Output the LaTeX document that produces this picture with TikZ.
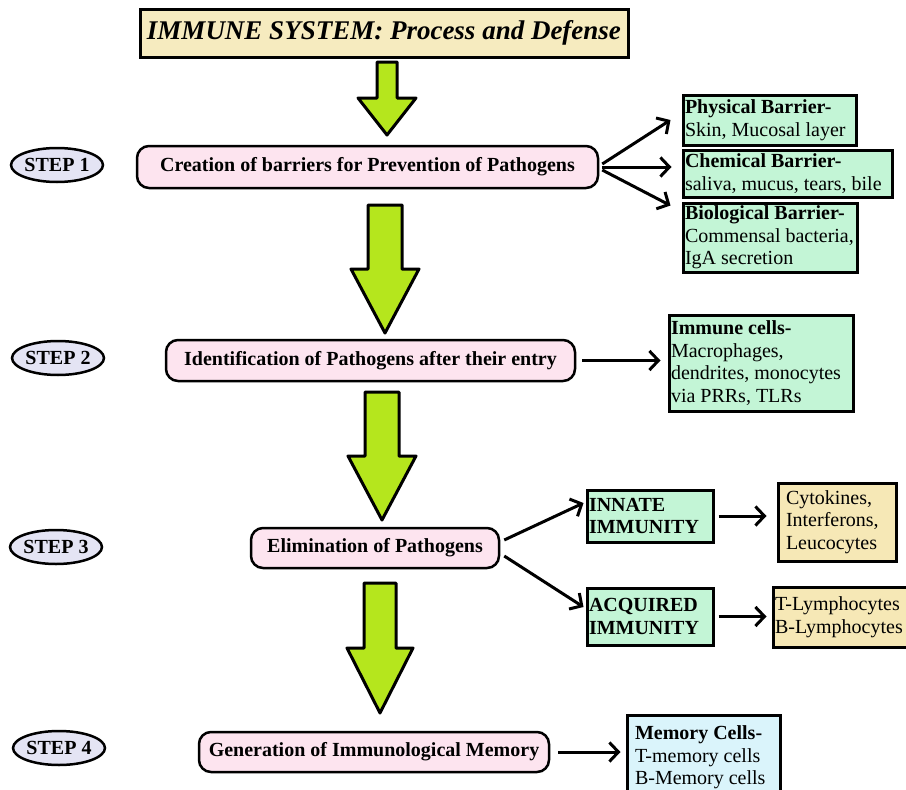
\documentclass[tikz,border=0pt]{standalone}
\usepackage{fontspec}
\setmainfont{Liberation Serif}
\usepackage{tikz}
\usetikzlibrary{arrows.meta, shapes.geometric}

\definecolor{titlefill}{HTML}{F6EBBF}
\definecolor{stepfill}{HTML}{E4E4F4}
\definecolor{procfill}{HTML}{FDE4EF}
\definecolor{mintfill}{HTML}{C3F5D6}
\definecolor{sandfill}{HTML}{F6E8B6}
\definecolor{skyfill}{HTML}{DAF4FB}
\definecolor{limegreen}{HTML}{B5E61D}

\newcommand{\bodysize}{\fontsize{20}{22.5}\selectfont}

\tikzset{
	procbox/.style = {draw, line width=2.5pt, rounded corners=12pt, fill=procfill, font=\bodysize\bfseries, inner sep=0pt},
	infobox/.style = {draw, line width=3pt, fill=mintfill, align=flush left, inner xsep=2pt, inner ysep=2pt, font=\bodysize},
	conn/.style = {line width=3pt, -{Straight Barb[length=9pt, width=19pt]}}
}

\begin{document}
\begin{tikzpicture}[
			x=1pt, y=-1pt,
			titlebox/.style={draw, line width=3pt, fill=titlefill, inner sep=0pt, font=\fontsize{27}{30}\selectfont\bfseries\itshape},
			stepoval/.style={ellipse, draw, line width=2.5pt, fill=stepfill, minimum width=88pt, minimum height=34pt, inner sep=0pt, font=\bodysize\bfseries},
			flow/.style={draw, line width=3pt, line join=round, fill=limegreen}
			]
			\clip (0,0) rectangle (906,790);
			
			% title
			\node[titlebox, minimum width=488pt, minimum height=48pt] (title) at (384,33) {IMMUNE SYSTEM: Process and Defense};
			
			% big green arrows between the steps
			\foreach \x/\ya/\yb/\yc/\s/\h in {387/62/98/135/10/29, 385/205/269/333/17/34, 382/392/456/520/17/34, 380/583/648/713/16/33}
				\draw[flow] (\x-\s,\ya) -- (\x+\s,\ya) -- (\x+\s,\yb) -- (\x+\h,\yb) -- (\x,\yc) -- (\x-\h,\yb) -- (\x-\s,\yb) -- cycle;
			
			% steps on the left
			\node[stepoval] (S1) at (57,165) {STEP 1};
			\node[stepoval] (S2) at (58,358) {STEP 2};
			\node[stepoval] (S3) at (56,547) {STEP 3};
			\node[stepoval] (S4) at (59,748) {STEP 4};
			
			% process boxes
			\node[procbox, minimum width=461pt, minimum height=42pt] (P1) at (367.5,167) {Creation of barriers for Prevention of Pathogens};
			\node[procbox, minimum width=409pt, minimum height=41pt] (P2) at (370.5,360.5) {Identification of Pathogens after their entry};
			\node[procbox, minimum width=248pt, minimum height=40pt] (P3) at (375,548) {Elimination of Pathogens};
			\node[procbox, minimum width=350pt, minimum height=40pt] (P4) at (374,752) {Generation of Immunological Memory};
			
			% step 1: barriers
			\node[infobox, text width=169pt, minimum height=50pt] (B1) at (769.5,120) {{\bfseries Physical Barrier-}\\Skin, Mucosal layer};
			\node[infobox, text width=205pt, minimum height=47pt] (B2) at (787.5,173.5) {{\bfseries Chemical Barrier-}\\saliva, mucus, tears, bile};
			\node[infobox, text width=170pt, minimum height=69pt] (B3) at (770,237.5) {{\bfseries Biological Barrier-}\\Commensal bacteria,\\IgA secretion};
			
			% step 2: immune cells
			\node[infobox, text width=180pt, minimum height=96pt] (C1) at (761,363) {{\bfseries Immune cells-}\\Macrophages,\\dendrites, monocytes\\via PRRs, TLRs};
			
			% step 3: immunity
			\node[infobox, text width=122pt, minimum height=52pt, font=\bodysize\bfseries] (I1) at (650,516) {INNATE\\IMMUNITY};
			\node[infobox, text width=122pt, minimum height=57pt, font=\bodysize\bfseries] (I2) at (650,616.5) {ACQUIRED\\IMMUNITY};
			\node[infobox, fill=sandfill, text width=114pt, minimum height=78pt] (R1) at (837,522) {\hspace*{6pt}Cytokines,\\\hspace*{6pt}Interferons,\\\hspace*{6pt}Leucocytes};
			\node[infobox, fill=sandfill, text width=138pt, minimum height=60pt] (R2) at (844,617) {T-Lymphocytes\\B-Lymphocytes};
			
			% step 4: memory
			\node[infobox, fill=skyfill, text width=149pt, minimum height=85pt] (M1) at (703.5,757.5) {\hspace*{6pt}{\bfseries Memory Cells-}\\\hspace*{6pt}T-memory cells\\\hspace*{6pt}B-Memory cells};
			
			% connectors
			\draw[conn] ([xshift=3pt,yshift=3pt]P1.east) -- ([xshift=-11pt]B1.west);
			\draw[conn] ([xshift=3pt]P1.east) -- ([xshift=-10pt]P1.east -| B2.west);
			\draw[conn] ([xshift=3pt,yshift=-3pt]P1.east) -- ([xshift=-11pt,yshift=-4pt]B3.north west);
			\draw[conn] ([xshift=6pt]P2.east) -- ([xshift=-7pt]P2.east -| C1.west);
			\draw[conn] ([xshift=4pt,yshift=8pt]P3.east) -- ([xshift=-2pt,yshift=13pt]I1.west);
			\draw[conn] ([xshift=4pt,yshift=-8pt]P3.east) -- ([xshift=-2pt,yshift=9.5pt]I2.west);
			\draw[conn] ([xshift=4pt]I1.east) -- ([xshift=-10pt]I1.east -| R1.west);
			\draw[conn] ([xshift=4pt]I2.east) -- ([xshift=-5pt]I2.east -| R2.west);
			\draw[conn] ([xshift=8pt]P4.east) -- ([xshift=-5pt]P4.east -| M1.west);
		\end{tikzpicture}
\end{document}
